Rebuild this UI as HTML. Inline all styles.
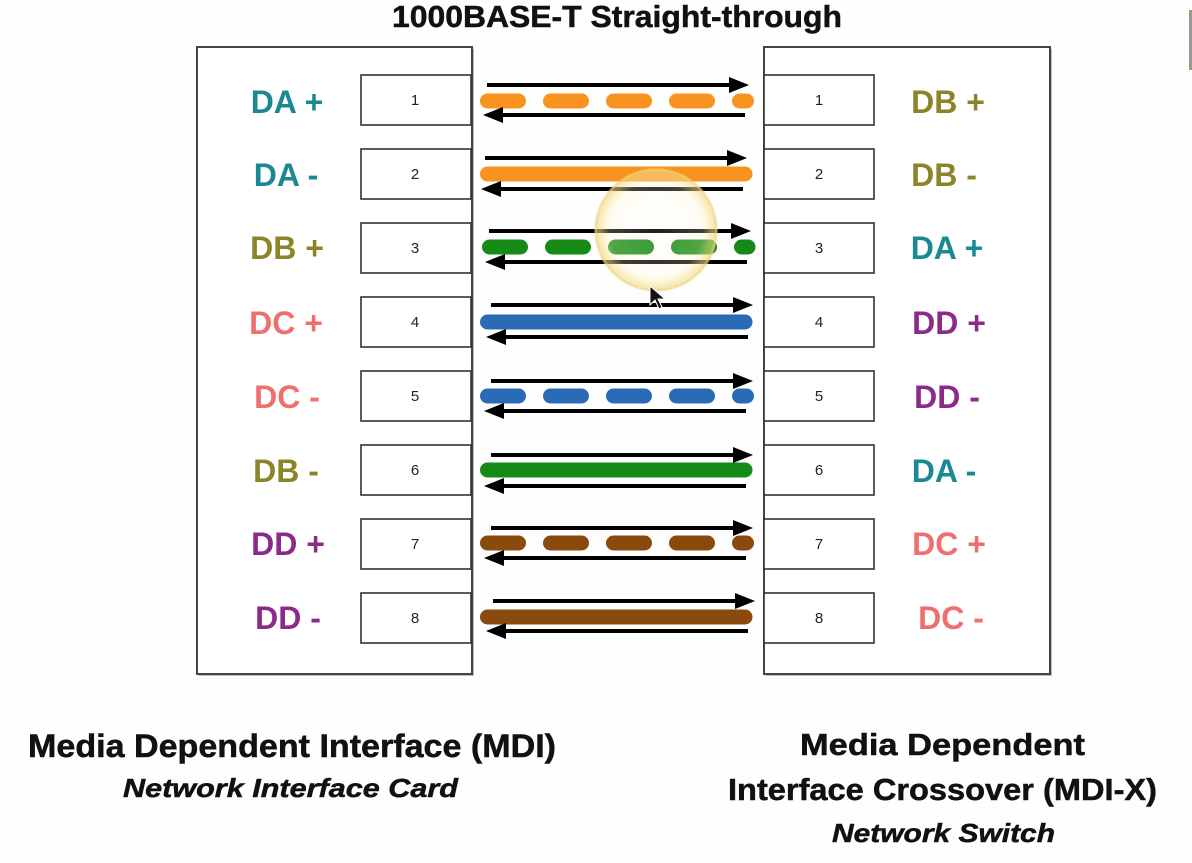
<!DOCTYPE html>
<html><head><meta charset="utf-8"><style>
html,body{margin:0;padding:0;background:#fefefe;}
svg{display:block;}
text{font-family:"Liberation Sans",sans-serif;}
</style></head><body>
<svg width="1192" height="863" viewBox="0 0 1192 863" xmlns="http://www.w3.org/2000/svg">
<defs>
<radialGradient id="glow" cx="50%" cy="50%" r="50%">
<stop offset="0%" stop-color="#fffdf0" stop-opacity="0.12"/>
<stop offset="75%" stop-color="#fff6d0" stop-opacity="0.25"/>
<stop offset="92%" stop-color="#f3dc80" stop-opacity="0.6"/>
<stop offset="100%" stop-color="#f5e6a8" stop-opacity="0.15"/>
</radialGradient>
</defs>
<rect width="1192" height="863" fill="#fefefe"/>
<rect x="1189" y="10" width="3" height="60" fill="#9a9a90"/>

<!-- Title -->
<text x="392" y="27" font-size="31" font-weight="bold" fill="#111" stroke="#111" stroke-width="0.5" textLength="450" lengthAdjust="spacingAndGlyphs">1000BASE-T Straight-through</text>

<!-- outer boxes -->
<rect x="199" y="49" width="275" height="627" fill="#bbb"/>
<rect x="197" y="47" width="275" height="627" fill="#fff" stroke="#444" stroke-width="2"/>
<rect x="766" y="49" width="286" height="627" fill="#bbb"/>
<rect x="764" y="47" width="286" height="627" fill="#fff" stroke="#444" stroke-width="2"/>

<!-- pin boxes left & right -->
<g fill="#fff" stroke="#333" stroke-width="1.6">
<rect x="361" y="75" width="110" height="50"/>
<rect x="361" y="149" width="110" height="50"/>
<rect x="361" y="223" width="110" height="50"/>
<rect x="361" y="297" width="110" height="50"/>
<rect x="361" y="371" width="110" height="50"/>
<rect x="361" y="445" width="110" height="50"/>
<rect x="361" y="519" width="110" height="50"/>
<rect x="361" y="593" width="110" height="50"/>
<rect x="764" y="75" width="110" height="50"/>
<rect x="764" y="149" width="110" height="50"/>
<rect x="764" y="223" width="110" height="50"/>
<rect x="764" y="297" width="110" height="50"/>
<rect x="764" y="371" width="110" height="50"/>
<rect x="764" y="445" width="110" height="50"/>
<rect x="764" y="519" width="110" height="50"/>
<rect x="764" y="593" width="110" height="50"/>
</g>
<g font-size="15" fill="#222" text-anchor="middle">
<text x="415" y="105">1</text><text x="415" y="179">2</text><text x="415" y="253">3</text><text x="415" y="327">4</text>
<text x="415" y="401">5</text><text x="415" y="475">6</text><text x="415" y="549">7</text><text x="415" y="623">8</text>
<text x="819" y="105">1</text><text x="819" y="179">2</text><text x="819" y="253">3</text><text x="819" y="327">4</text>
<text x="819" y="401">5</text><text x="819" y="475">6</text><text x="819" y="549">7</text><text x="819" y="623">8</text>
</g>

<!-- left labels -->
<g font-size="32" font-weight="bold" text-anchor="middle">
<text x="287" y="113" fill="#1c8894">DA +</text>
<text x="286" y="186" fill="#1c8894">DA -</text>
<text x="287" y="259" fill="#8c8428">DB +</text>
<text x="286" y="334" fill="#ee6f6c">DC +</text>
<text x="287" y="408" fill="#ee6f6c">DC -</text>
<text x="286" y="482" fill="#8c8428">DB -</text>
<text x="288" y="555" fill="#8c2a8c">DD +</text>
<text x="288" y="629" fill="#8c2a8c">DD -</text>
</g>
<!-- right labels -->
<g font-size="32" font-weight="bold" text-anchor="middle">
<text x="948" y="113" fill="#8c8428">DB +</text>
<text x="944" y="186" fill="#8c8428">DB -</text>
<text x="947" y="259" fill="#1c8894">DA +</text>
<text x="949" y="334" fill="#8c2a8c">DD +</text>
<text x="947" y="408" fill="#8c2a8c">DD -</text>
<text x="944" y="482" fill="#1c8894">DA -</text>
<text x="949" y="555" fill="#ee6f6c">DC +</text>
<text x="951" y="629" fill="#ee6f6c">DC -</text>
</g>

<!-- cables -->
<g stroke-linecap="round" stroke-width="15" fill="none">
<line x1="487.5" y1="101" x2="746.5" y2="101" stroke="#f7931e" stroke-dasharray="31 32"/>
<line x1="487.5" y1="174" x2="745" y2="174" stroke="#f7931e"/>
<line x1="489.5" y1="247" x2="748" y2="247" stroke="#168a16" stroke-dasharray="31 32"/>
<line x1="487.5" y1="322" x2="745" y2="322" stroke="#2a6bb5"/>
<line x1="487.5" y1="396" x2="746.5" y2="396" stroke="#2a6bb5" stroke-dasharray="31 32"/>
<line x1="487.5" y1="470" x2="745" y2="470" stroke="#168a16"/>
<line x1="487.5" y1="543" x2="746.5" y2="543" stroke="#8a4a0e" stroke-dasharray="31 32"/>
<line x1="487.5" y1="617" x2="745" y2="617" stroke="#8a4a0e"/>
</g>

<!-- arrows -->
<g stroke="#000" stroke-width="4">
<line x1="487" y1="85" x2="732" y2="85"/><line x1="745" y1="115" x2="500" y2="115"/>
<line x1="485" y1="158" x2="730" y2="158"/><line x1="743" y1="189" x2="498" y2="189"/>
<line x1="489" y1="231" x2="734" y2="231"/><line x1="747" y1="262" x2="502" y2="262"/>
<line x1="491" y1="305" x2="736" y2="305"/><line x1="748" y1="337" x2="503" y2="337"/>
<line x1="491" y1="381" x2="736" y2="381"/><line x1="746" y1="411" x2="501" y2="411"/>
<line x1="491" y1="455" x2="736" y2="455"/><line x1="746" y1="486" x2="501" y2="486"/>
<line x1="491" y1="528" x2="736" y2="528"/><line x1="746" y1="558" x2="501" y2="558"/>
<line x1="493" y1="601" x2="738" y2="601"/><line x1="748" y1="631" x2="503" y2="631"/>
</g>
<g fill="#000">
<polygon points="729,77 749,85 729,93"/><polygon points="503,107 483,115 503,123"/>
<polygon points="727,150 747,158 727,166"/><polygon points="501,181 481,189 501,197"/>
<polygon points="731,223 751,231 731,239"/><polygon points="505,254 485,262 505,270"/>
<polygon points="733,297 753,305 733,313"/><polygon points="506,329 486,337 506,345"/>
<polygon points="733,373 753,381 733,389"/><polygon points="504,403 484,411 504,419"/>
<polygon points="733,447 753,455 733,463"/><polygon points="504,478 484,486 504,494"/>
<polygon points="733,520 753,528 733,536"/><polygon points="504,550 484,558 504,566"/>
<polygon points="735,593 755,601 735,609"/><polygon points="506,623 486,631 506,639"/>
</g>

<!-- highlight circle and cursor -->
<circle cx="656" cy="230" r="62" fill="url(#glow)"/>
<circle cx="656" cy="230" r="60" fill="none" stroke="#edd27a" stroke-width="3" stroke-opacity="0.6"/>
<polygon points="650,286 650,305 655,300 659,309 662,307 658,299 665,299" fill="#111" stroke="#fff" stroke-width="1"/>

<!-- bottom text -->
<g fill="#111" stroke="#111" stroke-width="0.5" font-weight="bold">
<text x="28" y="757" font-size="32" textLength="528" lengthAdjust="spacingAndGlyphs">Media Dependent Interface (MDI)</text>
<text x="123" y="797" font-size="26" font-style="italic" textLength="335" lengthAdjust="spacingAndGlyphs">Network Interface Card</text>
<text x="800" y="755" font-size="31" textLength="285" lengthAdjust="spacingAndGlyphs">Media Dependent</text>
<text x="728" y="800" font-size="31" textLength="429" lengthAdjust="spacingAndGlyphs">Interface Crossover (MDI-X)</text>
<text x="832" y="842" font-size="26" font-style="italic" textLength="223" lengthAdjust="spacingAndGlyphs">Network Switch</text>
</g>
</svg>
</body></html>
